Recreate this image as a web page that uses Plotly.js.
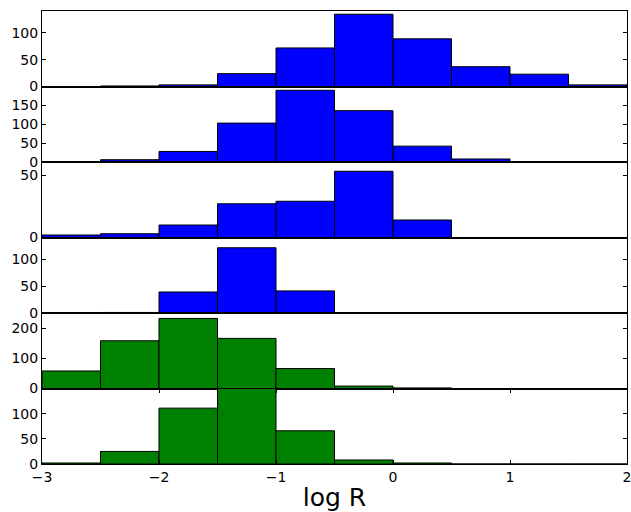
<!DOCTYPE html>
<html>
<head>
<meta charset="utf-8">
<script src="https://cdn.plot.ly/plotly-3.0.1.min.js"></script>
<style>html,body{margin:0;padding:0;background:#fff;}#chart{width:631px;height:512px;}</style>
</head>
<body>
<div id="chart"></div>
<script>
// bin centres of the log R histogram (bin width 0.5, from -3 to 2)
const binCenters = [-2.75, -2.25, -1.75, -1.25, -0.75, -0.25, 0.25, 0.75, 1.25, 1.75];
// counts per panel, top to bottom
const counts1 = [0, 1, 3, 24, 72, 135, 89, 37, 23, 3];
const counts2 = [1, 6, 28, 103, 190, 136, 42, 8, 0, 0];
const counts3 = [2, 3, 10, 27, 29, 53, 14, 0, 0, 0];
const counts4 = [0, 1, 39, 121, 41, 0, 0, 0, 0, 0];
const counts5 = [58, 158, 232, 166, 66, 8, 2, 0, 0, 0];
const counts6 = [2, 25, 111, 160, 66, 8, 2, 0, 0, 0];
const panelColors = ['#0000ff', '#0000ff', '#0000ff', '#0000ff', '#008000', '#008000'];
const yRanges = [[0, 141], [0, 200], [0, 60.4], [0, 140], [0, 250], [0, 150]];
const yTicks = [[0, 50, 100], [0, 50, 100, 150], [0, 50], [0, 50, 100], [0, 100, 200], [0, 50, 100]];
const xTickVals = [-3, -2, -1, 0, 1, 2];
const xLabel = 'log R';

const allCounts = [counts1, counts2, counts3, counts4, counts5, counts6];
const font = {family: 'DejaVu Sans, sans-serif', size: 14, color: '#000'};

const traces = allCounts.map((c, i) => ({
  type: 'bar',
  x: binCenters,
  y: c,
  width: 0.5,
  xaxis: 'x' + (i + 1),
  yaxis: 'y' + (i + 1),
  marker: {color: panelColors[i], line: {color: '#000', width: 1}},
  hoverinfo: 'skip',
  showlegend: false
}));

const layout = {
  width: 631, height: 512,
  margin: {l: 42, r: 4, t: 11, b: 48},
  paper_bgcolor: '#fff', plot_bgcolor: '#fff',
  bargap: 0,
  font: font,
  showlegend: false
};

for (let i = 0; i < 6; i++) {
  const n = i + 1;
  const top = 1 - i / 6, bottom = 1 - (i + 1) / 6;
  const isLast = (i === 5);
  layout['xaxis' + n] = {
    domain: [0, 1],
    anchor: 'y' + n,
    range: [-3, 2],
    showgrid: false, zeroline: false,
    showline: true, linecolor: '#000', linewidth: 1,
    mirror: isLast ? 'ticks' : true,
    ticks: isLast ? 'inside' : '',
    ticklen: 4, tickwidth: 1, tickcolor: '#000',
    tickmode: 'array', tickvals: xTickVals,
    showticklabels: isLast,
    ticklabeloverflow: 'allow',
    tickfont: font,
    title: isLast ? {text: xLabel, font: {family: 'DejaVu Sans, sans-serif', size: 25, color: '#000'}, standoff: 6} : undefined
  };
  layout['yaxis' + n] = {
    domain: [bottom, top],
    anchor: 'x' + n,
    range: yRanges[i],
    showgrid: false, zeroline: false,
    showline: true, linecolor: '#000', linewidth: 1,
    mirror: 'ticks',
    ticks: 'inside', ticklen: 4, tickwidth: 1, tickcolor: '#000',
    tickmode: 'array', tickvals: yTicks[i],
    tickfont: font
  };
}

Plotly.newPlot('chart', traces, layout, {displayModeBar: false, staticPlot: true});
</script>
</body>
</html>
